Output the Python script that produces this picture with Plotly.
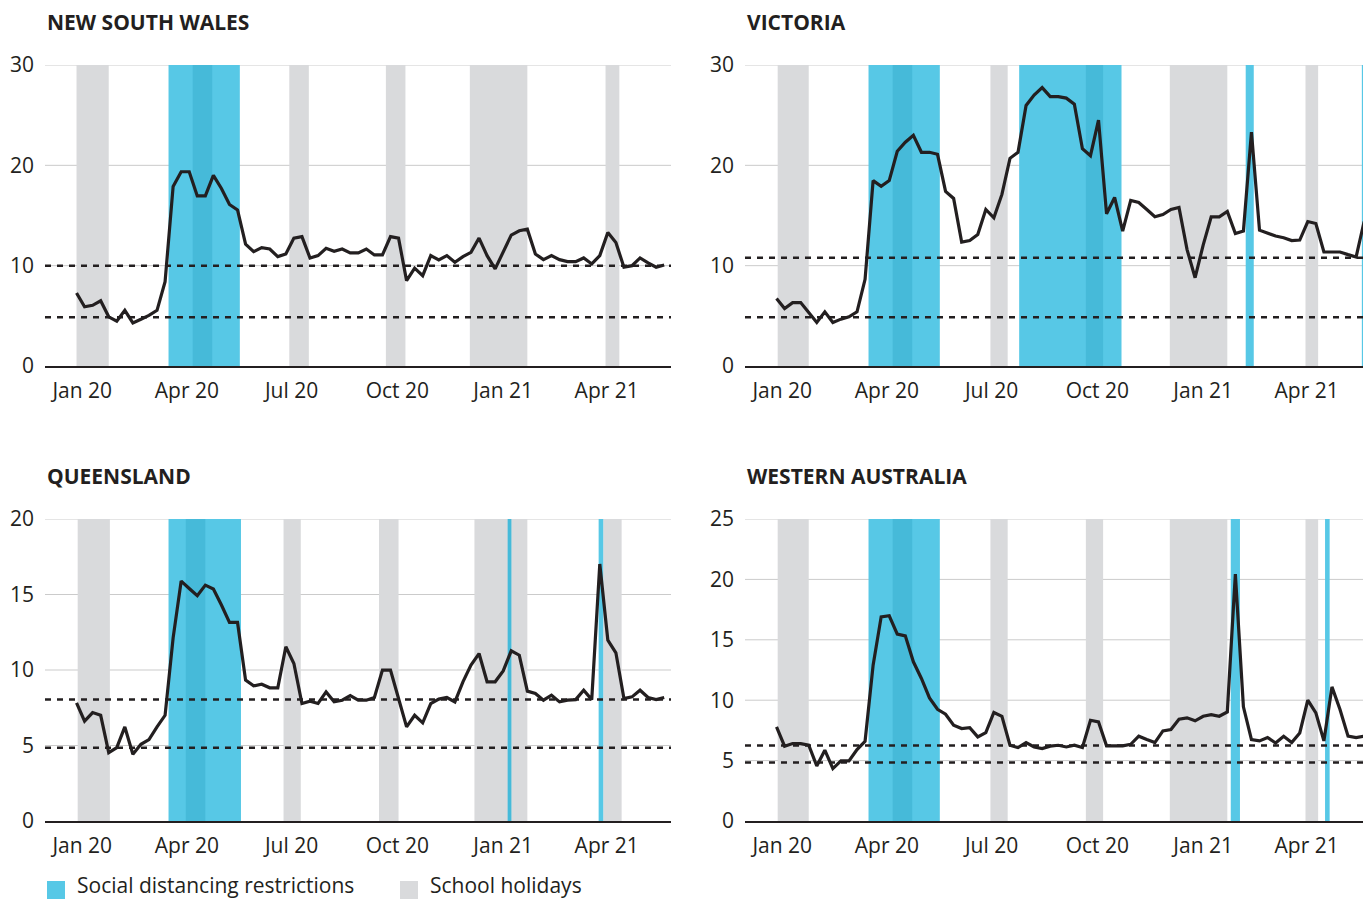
import pandas as pd
import plotly.graph_objects as go

# ---------------- data ----------------
START = "2019-12-27"      # first weekly observation
N_WEEKS = 74

nsw = [7.27, 5.9, 6.05, 6.5, 4.9, 4.46, 5.55, 4.3, 4.66, 5.05, 5.55, 8.4, 17.9, 19.36, 19.36,
       16.95, 16.95, 19.0, 17.7, 16.1, 15.55, 12.15, 11.4, 11.8, 11.66, 10.9, 11.17, 12.75, 12.9,
       10.77, 11.0, 11.73, 11.43, 11.66, 11.27, 11.27, 11.66, 11.07, 11.07, 12.9, 12.75, 8.5, 9.75,
       9.0, 11.0, 10.57, 11.0, 10.34, 10.9, 11.33, 12.75, 11.0, 9.68, 11.4, 13.05, 13.48, 13.64,
       11.17, 10.6, 11.0, 10.6, 10.4, 10.4, 10.77, 10.17, 11.0, 13.3, 12.3, 9.85, 10.0, 10.77,
       10.27, 9.85, 10.07]
vic = [6.72, 5.73, 6.32, 6.32, 5.33, 4.34, 5.4, 4.34, 4.67, 4.9, 5.4, 8.64, 18.48, 17.9, 18.48,
       21.4, 22.3, 23.0, 21.3, 21.3, 21.1, 17.4, 16.7, 12.35, 12.5, 13.1, 15.6, 14.77, 17.1, 20.7,
       21.3, 25.96, 27.0, 27.75, 26.85, 26.85, 26.7, 26.1, 21.66, 20.96, 24.5, 15.17, 16.8, 13.44,
       16.5, 16.3, 15.6, 14.87, 15.1, 15.6, 15.8, 11.6, 8.8, 12.05, 14.87, 14.87, 15.4, 13.2, 13.44,
       23.3, 13.54, 13.28, 12.95, 12.78, 12.5, 12.55, 14.4, 14.2, 11.36, 11.36, 11.36, 11.1, 10.86,
       14.4]
qld = [7.82, 6.61, 7.18, 7.0, 4.53, 4.86, 6.23, 4.42, 5.08, 5.39, 6.23, 7.0, 12.13, 15.89, 15.4,
       14.92, 15.62, 15.36, 14.3, 13.15, 13.15, 9.33, 8.95, 9.06, 8.82, 8.82, 11.54, 10.43, 7.78,
       7.93, 7.78, 8.55, 7.89, 8.0, 8.3, 8.0, 8.0, 8.18, 9.99, 9.99, 8.11, 6.23, 7.0, 6.5, 7.78,
       8.07, 8.18, 7.89, 9.22, 10.32, 11.09, 9.22, 9.22, 9.94, 11.27, 10.98, 8.6, 8.44, 8.0, 8.33,
       7.89, 8.0, 8.04, 8.66, 8.04, 17.02, 11.98, 11.14, 8.11, 8.22, 8.66, 8.18, 8.04, 8.18]
wa = [7.79, 6.19, 6.41, 6.41, 6.27, 4.56, 5.86, 4.34, 4.97, 4.97, 5.91, 6.6, 12.9, 16.9, 16.99,
      15.47, 15.33, 13.18, 11.8, 10.19, 9.25, 8.84, 7.93, 7.65, 7.73, 6.96, 7.32, 8.98, 8.67, 6.27,
      6.08, 6.49, 6.13, 5.99, 6.2, 6.27, 6.13, 6.27, 6.08, 8.34, 8.2, 6.22, 6.22, 6.22, 6.35, 7.02,
      6.74, 6.49, 7.46, 7.57, 8.43, 8.54, 8.29, 8.67, 8.81, 8.67, 9.03, 20.44, 9.45, 6.74, 6.63,
      6.91, 6.46, 7.02, 6.49, 7.29, 10.0, 8.95, 6.63, 11.1, 9.23, 7.02, 6.91, 7.02]

nsw_holidays = [("2019-12-27", "2020-01-24"), ("2020-04-06", "2020-04-23"), ("2020-06-29", "2020-07-16"),
                ("2020-09-21", "2020-10-08"), ("2020-12-03", "2021-01-22"), ("2021-03-31", "2021-04-12")]
nsw_restrictions = [("2020-03-16", "2020-05-17")]
nsw_refs = [10.0, 4.85]

vic_holidays = [("2019-12-28", "2020-01-24"), ("2020-04-06", "2020-04-23"), ("2020-06-30", "2020-07-15"),
                ("2020-09-21", "2020-10-06"), ("2020-12-03", "2021-01-22"), ("2021-03-31", "2021-04-11")]
vic_restrictions = [("2020-03-16", "2020-05-17"), ("2020-07-25", "2020-10-22"),
                    ("2021-02-07", "2021-02-14"), ("2021-05-19", "2021-06-10")]
vic_refs = [10.8, 4.85]

qld_holidays = [("2019-12-28", "2020-01-25"), ("2020-03-31", "2020-04-17"), ("2020-06-24", "2020-07-09"),
                ("2020-09-15", "2020-10-02"), ("2020-12-07", "2021-01-22"), ("2021-03-29", "2021-04-14")]
qld_restrictions = [("2020-03-16", "2020-05-18"), ("2021-01-05", "2021-01-08"), ("2021-03-25", "2021-03-29")]
qld_refs = [8.05, 4.85]

wa_holidays = [("2019-12-28", "2020-01-24"), ("2020-04-06", "2020-04-23"), ("2020-06-30", "2020-07-15"),
               ("2020-09-21", "2020-10-06"), ("2020-12-03", "2021-01-22"), ("2021-03-31", "2021-04-11")]
wa_restrictions = [("2020-03-16", "2020-05-17"), ("2021-01-25", "2021-02-02"), ("2021-04-17", "2021-04-21")]
wa_refs = [6.25, 4.85]

tick_dates = ["2020-01-01", "2020-04-01", "2020-07-01", "2020-10-01", "2021-01-01", "2021-04-01"]
tick_labels = ["Jan 20", "Apr 20", "Jul 20", "Oct 20", "Jan 21", "Apr 21"]

titles = ["NEW SOUTH WALES", "VICTORIA", "QUEENSLAND", "WESTERN AUSTRALIA"]
legend_labels = ["Social distancing restrictions", "School holidays"]

# ---------------- style ----------------
W, H = 1363, 901
FONT = "Open Sans"
TXT = "#231f20"
CYAN = "#57c8e6"
DARK_CYAN = "#46bad9"
GREY = "#d9dadc"
GRID = "#cbcbcb"

weeks = pd.date_range(START, periods=N_WEEKS, freq="7D")

panels = [
    dict(title=titles[0], values=nsw, hol=nsw_holidays, res=nsw_restrictions, refs=nsw_refs,
         ymax=30, dtick=10, xpx=(45, 671), ypx=(65, 366), xend="2021-05-26 22:00"),
    dict(title=titles[1], values=vic, hol=vic_holidays, res=vic_restrictions, refs=vic_refs,
         ymax=30, dtick=10, xpx=(745, 1363), ypx=(65, 366), xend="2021-05-20 00:00"),
    dict(title=titles[2], values=qld, hol=qld_holidays, res=qld_restrictions, refs=qld_refs,
         ymax=20, dtick=5, xpx=(45, 671), ypx=(519, 821), xend="2021-05-26 22:00"),
    dict(title=titles[3], values=wa, hol=wa_holidays, res=wa_restrictions, refs=wa_refs,
         ymax=25, dtick=5, xpx=(745, 1363), ypx=(519, 821), xend="2021-05-20 00:00"),
]
XSTART = "2019-11-29 14:00"

fig = go.Figure()
shapes = []
annotations = []

for i, p in enumerate(panels, start=1):
    sfx = "" if i == 1 else str(i)
    xa, ya = "x" + sfx, "y" + sfx
    fig.add_trace(go.Scatter(x=weeks, y=p["values"], mode="lines", xaxis=xa, yaxis=ya,
                             line=dict(color=TXT, width=3.2), hoverinfo="skip", showlegend=False))

    x0p, x1p = p["xpx"]
    y0p, y1p = p["ypx"]
    yticks = list(range(0, p["ymax"] + 1, p["dtick"]))
    fig.layout["xaxis" + sfx] = dict(
        domain=[x0p / W, x1p / W], anchor=ya, type="date", automargin=False,
        range=[XSTART, p["xend"]], showgrid=False, zeroline=False,
        showline=True, linecolor=TXT, linewidth=1.5, ticks="",
        tickvals=tick_dates, ticktext=tick_labels, ticklabelstandoff=5,
        tickfont=dict(family=FONT, size=21, color=TXT), fixedrange=True)
    fig.layout["yaxis" + sfx] = dict(
        domain=[1 - y1p / H, 1 - y0p / H], anchor=xa, range=[0, p["ymax"]], automargin=False,
        tickvals=yticks, showgrid=False, zeroline=False, showline=False, ticks="",
        ticklabelstandoff=10, tickfont=dict(family=FONT, size=21, color=TXT), fixedrange=True)

    # gridlines (drawn first so the shaded bands cover them)
    for t in yticks[1:]:
        shapes.append(dict(type="line", xref=xa + " domain", yref=ya, x0=0, x1=1, y0=t, y1=t,
                           line=dict(color=GRID, width=1), layer="below"))

    def band(a, b, color):
        shapes.append(dict(type="rect", xref=xa, yref=ya + " domain", x0=a, x1=b, y0=0, y1=1,
                           fillcolor=color, line=dict(width=0), layer="below"))

    for a, b in p["hol"]:
        band(a, b, GREY)
    for a, b in p["res"]:
        band(a, b, CYAN)
    # holidays falling within restrictions are shown darker
    for ha, hb in p["hol"]:
        for ra, rb in p["res"]:
            lo = max(pd.Timestamp(ha), pd.Timestamp(ra))
            hi = min(pd.Timestamp(hb), pd.Timestamp(rb))
            if lo < hi:
                band(lo.strftime("%Y-%m-%d %H:%M"), hi.strftime("%Y-%m-%d %H:%M"), DARK_CYAN)
    for r in p["refs"]:
        shapes.append(dict(type="line", xref=xa + " domain", yref=ya, x0=0, x1=1, y0=r, y1=r,
                           line=dict(color=TXT, width=2.5, dash="6px,6px"), layer="below"))

    annotations.append(dict(text="<b>" + p["title"] + "</b>", xref="paper", yref="paper",
                            x=x0p / W, y=1 - (y0p - 43) / H, xanchor="left", yanchor="middle",
                            showarrow=False, font=dict(family=FONT, size=21, color=TXT)))

# legend
leg = [(47, CYAN, legend_labels[0]), (400, GREY, legend_labels[1])]
for xp, col, lab in leg:
    shapes.append(dict(type="rect", xref="paper", yref="paper", x0=xp / W, x1=(xp + 18) / W,
                       y0=1 - 899 / H, y1=1 - 881 / H, fillcolor=col, line=dict(width=0)))
    annotations.append(dict(text=lab, xref="paper", yref="paper", x=(xp + 28) / W, y=1 - 885 / H,
                            xanchor="left", yanchor="middle", showarrow=False,
                            font=dict(family=FONT, size=21, color=TXT)))

fig.update_layout(width=W, height=H, margin=dict(l=0, r=0, t=0, b=0, pad=0, autoexpand=False),
                  paper_bgcolor="white", plot_bgcolor="white", showlegend=False,
                  shapes=shapes, annotations=annotations, font=dict(family=FONT, color=TXT))

fig.write_html("out.html", config={"displayModeBar": False},
               post_script="document.body.style.margin='0px';")
